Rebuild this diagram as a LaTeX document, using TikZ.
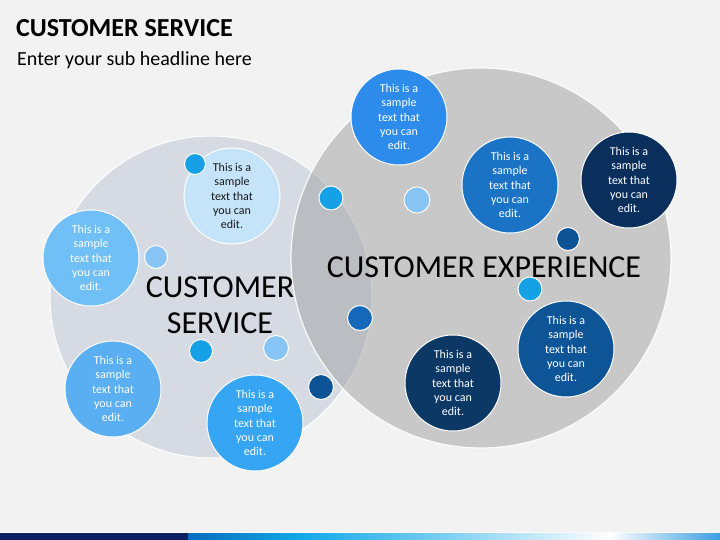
\documentclass[tikz,border=0pt]{standalone}
\usepackage{fontspec}
\setmainfont{Carlito}
\definecolor{bgc}{HTML}{F2F2F2}
\definecolor{leftbig}{HTML}{D6DBE3}
\definecolor{rightbig}{HTML}{A0A0A0}
\definecolor{cA}{HTML}{2D8CEB}
\definecolor{cB}{HTML}{1B73C6}
\definecolor{cC}{HTML}{0A2F5C}
\definecolor{cD}{HTML}{0E5598}
\definecolor{cE}{HTML}{0C3866}
\definecolor{cF}{HTML}{C5E3F9}
\definecolor{cG}{HTML}{70BFF6}
\definecolor{cH}{HTML}{5AAEF2}
\definecolor{cI}{HTML}{36A5F3}
\definecolor{dCyan}{HTML}{16A0E6}
\definecolor{dLight}{HTML}{86C5F5}
\definecolor{dDark}{HTML}{0B5394}
\definecolor{dMed}{HTML}{1568BA}
\definecolor{barnavy}{HTML}{0A2262}
\definecolor{barA}{HTML}{0A6CC0}
\definecolor{barB}{HTML}{10A8E8}
\definecolor{barC}{HTML}{80D0F2}
\definecolor{barD}{HTML}{FFFFFF}
\definecolor{barE}{HTML}{3A9EE0}
\tikzset{
  txtcirc/.style={circle,draw=white,line width=1pt,minimum size=96pt,inner sep=0pt,align=center,text=white,font=\fontsize{12}{14.4}\selectfont},
  dot/.style={circle,draw=white,line width=1pt,minimum size=23pt,inner sep=0pt},
  bigtxt/.style={font=\fontsize{32}{36}\selectfont,text=black,align=center}
}
\begin{document}
\begin{tikzpicture}[x=1pt,y=-1pt]
\useasboundingbox (0,0) rectangle (720,540);
\fill[bgc] (0,0) rectangle (720,540);
% title
\node[anchor=base west,inner sep=0pt,font=\fontsize{26}{30}\selectfont\bfseries] (title) at (16,37) {CUSTOMER SERVICE};
\node[anchor=base west,inner sep=0pt,font=\fontsize{20}{24}\selectfont] (sub) at (17,66) {Enter your sub headline here};
% big circles
\node[circle,fill=leftbig,draw=white,line width=1pt,minimum size=322pt,inner sep=0pt] (cs) at (211,297) {};
\node[circle,fill=rightbig,fill opacity=0.5,draw=white,draw opacity=0.9,line width=1.2pt,minimum size=380pt,inner sep=0pt] (ce) at (481,258) {};
% big labels
\node[bigtxt,inner sep=0pt] (cslabel) at (220,305) {CUSTOMER\\SERVICE};
\node[bigtxt,inner sep=0pt,anchor=base] (celabel) at (484,277) {CUSTOMER EXPERIENCE};
% text circles
\node[txtcirc,fill=cA] (t1) at (399,117) {This is a\\sample\\text that\\you can\\edit.};
\node[txtcirc,fill=cB] (t2) at (510,185) {This is a\\sample\\text that\\you can\\edit.};
\node[txtcirc,fill=cC] (t3) at (629,180) {This is a\\sample\\text that\\you can\\edit.};
\node[txtcirc,fill=cD] (t4) at (566,349) {This is a\\sample\\text that\\you can\\edit.};
\node[txtcirc,fill=cE] (t5) at (453,383) {This is a\\sample\\text that\\you can\\edit.};
\node[txtcirc,fill=cF,text=black!90] (t6) at (232,196) {This is a\\sample\\text that\\you can\\edit.};
\node[txtcirc,fill=cG] (t7) at (91,258) {This is a\\sample\\text that\\you can\\edit.};
\node[txtcirc,fill=cH] (t8) at (113,389) {This is a\\sample\\text that\\you can\\edit.};
\node[txtcirc,fill=cI] (t9) at (255,423) {This is a\\sample\\text that\\you can\\edit.};
% dots
\node[dot,fill=dCyan,minimum size=21pt] (da) at (195,164) {};
\node[dot,fill=dLight] (db) at (156,257) {};
\node[dot,fill=dCyan] (dc) at (201,351) {};
\node[dot,fill=dLight,minimum size=25pt] (dd) at (276,348) {};
\node[dot,fill=dDark,minimum size=25pt] (de) at (321,387) {};
\node[dot,fill=dCyan,minimum size=24pt] (df) at (331,198) {};
\node[dot,fill=dLight,minimum size=26pt] (dg) at (417,200) {};
\node[dot,fill=dDark] (dh) at (568,239) {};
\node[dot,fill=dCyan,minimum size=24pt] (di) at (530,289) {};
\node[dot,fill=dMed,minimum size=25pt] (dj) at (360,318) {};
% bottom bar
\fill[white!70!bgc] (0,531.5) rectangle (720,533);
\fill[barnavy] (0,533) rectangle (188,540);
\shade[left color=barA,right color=barB] (188,533) rectangle (300,540);
\shade[left color=barB,right color=barC] (299.5,533) rectangle (450,540);
\shade[left color=barC,right color=barD] (449.5,533) rectangle (610,540);
\shade[left color=barD,right color=barE] (609.5,533) rectangle (720,540);
\end{tikzpicture}
\end{document}
